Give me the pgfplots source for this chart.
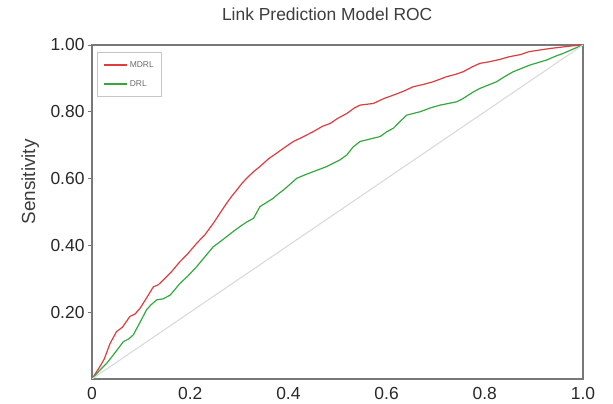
\documentclass[border=0pt]{standalone}
\usepackage{fontspec}
\setmainfont{Liberation Sans}
\usepackage{pgfplots}
\pgfplotsset{compat=1.18}
\definecolor{mdrl}{RGB}{222,60,62}
\definecolor{drl}{RGB}{52,168,62}
\definecolor{diag}{RGB}{218,218,218}
\definecolor{frame}{RGB}{120,120,120}
\definecolor{txt}{RGB}{40,40,40}
\definecolor{legtxt}{RGB}{110,110,110}
\begin{document}
\begin{tikzpicture}
\path[use as bounding box] (-92bp,-25bp) rectangle (521bp,379bp);
\begin{axis}[
  scale only axis,
  width=491bp, height=334bp,
  xmin=0, xmax=1, ymin=0, ymax=1,
  axis line style={frame, line width=1.4bp},
  xtick={0,0.2,0.4,0.6,0.8,1.0},
  xticklabels={0,0.2,0.4,0.6,0.8,1.0},
  ytick={0.2,0.4,0.6,0.8,1.0},
  yticklabels={0.20,0.40,0.60,0.80,1.00},
  tick style={frame, line width=0.8bp},
  tick align=outside,
  xtick style={draw=none},
  major tick length=4bp,
  ytick pos=left,
  xtick pos=bottom,
  ticklabel style={font=\fontsize{17.5}{19}\selectfont, text=txt},
  xticklabel style={yshift=-1bp},
  title={Link Prediction Model ROC},
  title style={font=\fontsize{17.5}{20}\selectfont, text=txt!90, at={(axis description cs:0.479,1.075)}, anchor=center},
  ylabel={Sensitivity},
  ylabel style={font=\fontsize{19}{21}\selectfont, text=txt!90, at={(axis description cs:-0.126,0.59)}, anchor=center},
  legend style={at={(axis description cs:0.01,0.979)}, anchor=north west, draw=gray!45, line width=0.8bp,
    font=\fontsize{8.5}{10}\selectfont, text=legtxt, inner xsep=6bp, inner ysep=7bp, row sep=7.5bp},
  legend cell align=left,
  legend image code/.code={\draw[#1, line width=1.5bp] (0bp,0bp) -- (23bp,0bp);},
]
\addplot[mdrl, line width=1.2bp] coordinates {
(0,0) (0.016,0.037) (0.025,0.06) (0.037,0.107) (0.050,0.142) (0.062,0.155) (0.077,0.187) (0.088,0.195) (0.098,0.212)
(0.110,0.240) (0.125,0.276) (0.135,0.282) (0.145,0.296) (0.160,0.318) (0.179,0.351) (0.195,0.375) (0.213,0.406)
(0.230,0.432) (0.247,0.466) (0.260,0.495) (0.274,0.526) (0.285,0.548) (0.295,0.566) (0.305,0.585) (0.315,0.601)
(0.330,0.622) (0.342,0.636) (0.360,0.660) (0.376,0.676) (0.395,0.696) (0.410,0.711) (0.430,0.725) (0.451,0.741)
(0.470,0.757) (0.485,0.765) (0.500,0.780) (0.519,0.795) (0.535,0.812) (0.546,0.820) (0.573,0.825) (0.595,0.840)
(0.614,0.850) (0.635,0.862) (0.654,0.875) (0.675,0.882) (0.695,0.890) (0.722,0.905) (0.740,0.912) (0.756,0.920)
(0.775,0.935) (0.790,0.945) (0.810,0.950) (0.831,0.957) (0.850,0.965) (0.872,0.971) (0.890,0.980) (0.912,0.985)
(0.935,0.990) (0.953,0.993) (0.975,0.997) (1,1)
};
\addlegendentry{MDRL}
\addplot[drl, line width=1.2bp] coordinates {
(0,0) (0.015,0.025) (0.030,0.047) (0.045,0.075) (0.064,0.112) (0.075,0.120) (0.084,0.132) (0.098,0.170) (0.111,0.207)
(0.120,0.222) (0.132,0.237) (0.145,0.240) (0.159,0.251) (0.170,0.270) (0.179,0.286) (0.195,0.308) (0.213,0.336)
(0.230,0.366) (0.247,0.396) (0.260,0.410) (0.274,0.426) (0.288,0.442) (0.301,0.456) (0.315,0.470) (0.329,0.481)
(0.342,0.516) (0.355,0.528) (0.369,0.541) (0.380,0.555) (0.390,0.566) (0.405,0.585) (0.417,0.601) (0.435,0.612)
(0.451,0.621) (0.478,0.636) (0.490,0.645) (0.505,0.656) (0.519,0.671) (0.532,0.695) (0.546,0.711) (0.565,0.718)
(0.587,0.726) (0.600,0.740) (0.614,0.751) (0.628,0.772) (0.641,0.790) (0.668,0.800) (0.690,0.812) (0.709,0.820)
(0.743,0.830) (0.756,0.840) (0.775,0.858) (0.790,0.870) (0.807,0.880) (0.824,0.890) (0.840,0.905) (0.858,0.920)
(0.875,0.930) (0.892,0.940) (0.910,0.948) (0.926,0.955) (0.945,0.967) (0.960,0.975) (0.980,0.988) (1,1)
};
\addlegendentry{DRL}
\addplot[diag, line width=1.1bp, forget plot] coordinates {(0,0) (1,1)};
\end{axis}
\end{tikzpicture}
\end{document}
